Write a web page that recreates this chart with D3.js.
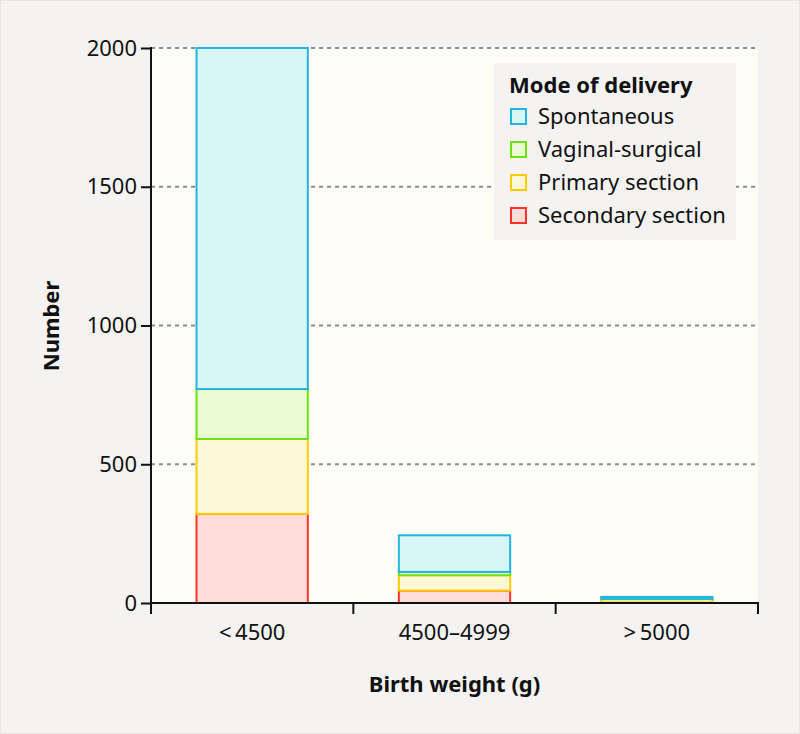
<!DOCTYPE html>
<html><head><meta charset="utf-8">
<script src="https://cdn.jsdelivr.net/npm/d3@7"></script>
<style>html,body{margin:0;padding:0;background:#f4f3f1;}svg{display:block;}</style>
</head><body>
<script>
const categories = ["<\u20094500", "4500\u20134999", ">\u20095000"];
const seriesNames = ["Secondary section", "Primary section", "Vaginal-surgical", "Spontaneous"];
const secondary = [321, 45, 2];
const primary = [270, 55, 12];
const vaginal = [180, 12, 1];
const spontaneous = [1229, 132, 7];
const yTicks = [0, 500, 1000, 1500, 2000];
const legendOrder = ["Spontaneous", "Vaginal-surgical", "Primary section", "Secondary section"];
const strokeColors = {"Spontaneous":"#22b5e2","Vaginal-surgical":"#6fe010","Primary section":"#ffcb05","Secondary section":"#ff3326"};
const fillColors = {"Spontaneous":"#d9f6f6","Vaginal-surgical":"#e9fbd0","Primary section":"#fdf7d5","Secondary section":"#fddcd9"};

const W = 800, H = 734;
const m = {left:151, right:42, top:48, bottom:131};
const font = "'Noto Sans', sans-serif";
const fs = 22;
const svg = d3.select("body").append("svg").attr("width", W).attr("height", H);
svg.append("rect").attr("x",0.5).attr("y",0.5).attr("width",W-1).attr("height",H-1).attr("fill","#f4f3f1").attr("stroke","#e6e5e2");

const x = d3.scaleBand().domain(categories).range([m.left, W - m.right]).paddingInner(0.44).paddingOuter(0.22);
const xTicksScale = d3.scaleLinear().domain([0,3]).range([m.left, W - m.right]);
const y = d3.scaleLinear().domain([0, 2000]).range([H - m.bottom, m.top]);

// plot bg
svg.append("rect").attr("x", m.left).attr("y", m.top).attr("width", W - m.right - m.left).attr("height", H - m.bottom - m.top).attr("fill", "#fffef6");

// grid
svg.append("g").selectAll("line").data(yTicks.filter(d=>d>0)).join("line")
  .attr("x1", m.left).attr("x2", W - m.right).attr("y1", d=>y(d)).attr("y2", d=>y(d))
  .attr("stroke", "#7f9293").attr("stroke-width", 2).attr("stroke-dasharray", "4,4");

// stacked data
const rows = categories.map((c,i)=>({cat:c, "Secondary section":secondary[i], "Primary section":primary[i], "Vaginal-surgical":vaginal[i], "Spontaneous":spontaneous[i]}));
const stack = d3.stack().keys(seriesNames)(rows);
const g = svg.append("g");
stack.forEach(layer=>{
  g.selectAll(null).data(layer).join("rect")
    .attr("x", d=>x(d.data.cat)+1).attr("width", x.bandwidth()-2)
    .attr("y", d=>y(d[1])).attr("height", d=>Math.max(0, y(d[0])-y(d[1])))
    .attr("fill", fillColors[layer.key]).attr("stroke", strokeColors[layer.key]).attr("stroke-width", 2);
});

// axes
const yAxis = svg.append("g").attr("transform", `translate(${m.left},0)`)
  .call(d3.axisLeft(y).tickValues(yTicks).tickSize(10).tickPadding(4).tickFormat(d3.format("d")));
yAxis.select(".domain").remove();
yAxis.append("line").attr("x1",0).attr("x2",0).attr("y1",m.top-1).attr("y2",H-m.bottom+11).attr("stroke","#111").attr("stroke-width",2);
yAxis.selectAll(".tick line").attr("stroke","#111").attr("stroke-width",2);
yAxis.selectAll(".tick text").attr("font-family",font).attr("font-size",fs).attr("fill","#111");

const xAxis = svg.append("g").attr("transform", `translate(0,${H-m.bottom})`);
xAxis.append("line").attr("x1",m.left).attr("x2",W-m.right+1).attr("y1",0).attr("y2",0).attr("stroke","#111").attr("stroke-width",2);
xAxis.selectAll(null).data(d3.range(4)).join("line")
  .attr("x1",d=>xTicksScale(d)).attr("x2",d=>xTicksScale(d)).attr("y1",0).attr("y2",11).attr("stroke","#111").attr("stroke-width",2);
xAxis.selectAll(null).data(categories).join("text")
  .attr("x", d=>x(d)+x.bandwidth()/2).attr("y", 37).attr("text-anchor","middle")
  .attr("font-family",font).attr("font-size",fs).attr("fill","#111").text(d=>d);

// axis titles
svg.append("text").attr("x", (m.left + W - m.right)/2).attr("y", 692).attr("text-anchor","middle")
  .attr("font-family",font).attr("font-weight","bold").attr("font-size",fs).attr("fill","#111").text("Birth weight (g)");
svg.append("text").attr("transform","translate(59,326) rotate(-90)").attr("text-anchor","middle")
  .attr("font-family",font).attr("font-weight","bold").attr("font-size",fs).attr("fill","#111").text("Number");

// legend
const lg = svg.append("g").attr("transform","translate(494,63)");
lg.append("rect").attr("width",242).attr("height",177).attr("fill","#f4f3f1");
lg.append("text").attr("x",15).attr("y",30).attr("font-family",font).attr("font-weight","bold").attr("font-size",fs).attr("fill","#111").text("Mode of delivery");
const items = lg.selectAll(null).data(legendOrder).join("g").attr("transform",(d,i)=>`translate(0,${53+i*33})`);
items.append("rect").attr("x",17).attr("y",-7).attr("width",15).attr("height",15)
  .attr("fill",d=>fillColors[d]).attr("stroke",d=>strokeColors[d]).attr("stroke-width",2);
items.append("text").attr("x",44).attr("y",8).attr("font-family",font).attr("font-size",fs).attr("fill","#111").text(d=>d);
</script>
</body></html>
